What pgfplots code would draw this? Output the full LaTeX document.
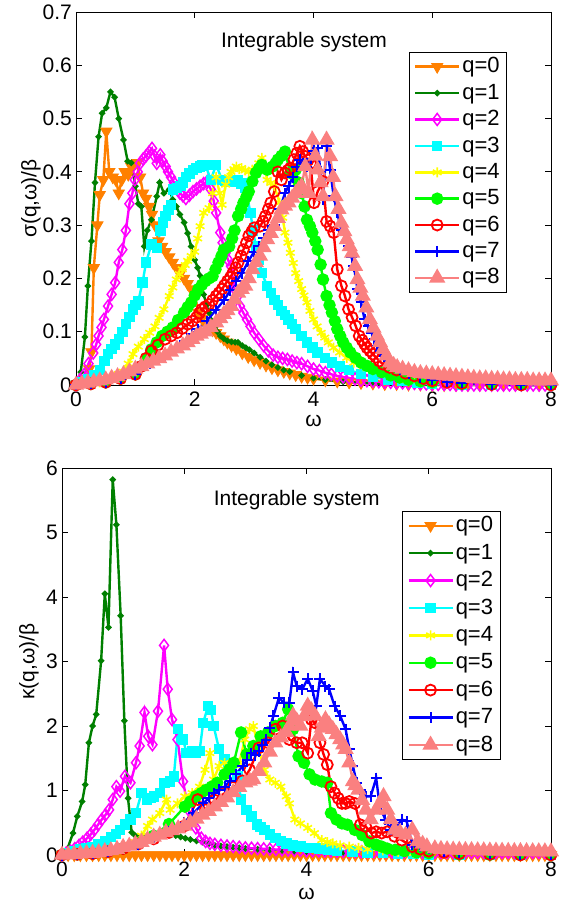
\documentclass[border=0pt]{standalone}
\usepackage{fontspec}
\setmainfont{Liberation Sans}
\usepackage{pgfplots}
\pgfplotsset{compat=1.18}
\definecolor{qorange}{rgb}{1,0.5,0}
\definecolor{qdkgreen}{rgb}{0,0.5,0}
\definecolor{qmagenta}{rgb}{1,0,1}
\definecolor{qcyan}{rgb}{0,1,1}
\definecolor{qyellow}{rgb}{1,1,0}
\definecolor{qgreen}{rgb}{0,1,0}
\definecolor{qred}{rgb}{1,0,0}
\definecolor{qblue}{rgb}{0,0,1}
\definecolor{qsalmon}{rgb}{0.98,0.5,0.5}
\newcommand{\bigf}{\fontsize{21}{25}\selectfont}
\newcommand{\legf}{\fontsize{22}{26}\selectfont}
\pgfplotsset{
  panel/.style={
    scale only axis, clip=false,
    xmin=0, xmax=8, xtick={0,2,4,6,8},
    tick align=inside, major tick length=6pt,
    axis line style={line width=0.9pt},
    every tick/.style={black, line width=0.8pt},
    every tick label/.append style={font=\bigf},
    xticklabel style={inner sep=1pt, yshift=-6pt},
    yticklabel style={inner sep=2pt, xshift=-2pt},
    every axis label/.append style={font=\bigf},
    /pgf/number format/assume math mode=true,
    xlabel={ω},
    xlabel style={at={(rel axis cs:0.5,0)}, anchor=center, inner sep=0pt},
    ylabel style={at={(rel axis cs:0,0.5)}, anchor=center},
    legend style={anchor=north west, draw=black, line width=1pt,
      font=\legf, inner xsep=5pt, inner ysep=3pt, nodes={font=\legf}},
    legend cell align=left,
    legend image code/.code={\draw[mark repeat=2,mark phase=2,##1] plot coordinates {(0pt,0pt) (22pt,0pt) (44pt,0pt)};},
  },
  s0/.style={qorange, line width=2.4pt, mark=triangle*, mark size=6.5pt, mark options={rotate=180, solid, line width=0.8pt, fill=qorange}},
  s1/.style={qdkgreen, line width=2.4pt, mark=*, mark size=1.8pt, mark options={solid}},
  s2/.style={qmagenta, line width=2.4pt, mark=diamond, mark size=6pt, mark options={solid, line width=1.5pt}},
  s3/.style={qcyan, line width=2.4pt, mark=square*, mark size=4pt, mark options={solid}},
  s4/.style={qyellow, line width=2.4pt, mark=asterisk, mark size=5pt, mark options={solid, line width=1.6pt}},
  s5/.style={qgreen, line width=2.4pt, mark=*, mark size=5pt, mark options={solid}},
  s6/.style={qred, line width=2.4pt, mark=o, mark size=5.5pt, mark options={solid, line width=1.8pt}},
  s7/.style={qblue, line width=2.4pt, mark=+, mark size=5.5pt, mark options={solid, line width=2pt}},
  s8/.style={qsalmon, line width=2.4pt, mark=triangle*, mark size=7pt, mark options={solid}},
}
\begin{document}
\bigf
\begin{tikzpicture}[font=\bigf]
\path[use as bounding box] (0pt,0pt) rectangle (567pt,903pt);

% upper panel: sigma
\begin{axis}[panel, at={(76pt,518pt)}, anchor=south west,
  width=475pt, height=373pt,
  ymin=0, ymax=0.7, ytick={0,0.1,0.2,0.3,0.4,0.5,0.6,0.7},
  ylabel={σ(q,ω)/β},
  xlabel style={yshift=-36pt},
  ylabel style={yshift=45pt},
  legend style={at={(0.70,0.893)}, row sep=4pt}]

\addplot[s0] coordinates {
(0,0) (0.08,0.005) (0.16,0.01) (0.22,0.03) (0.26,0.062) (0.30,0.22) (0.36,0.30) (0.40,0.357) (0.46,0.385) (0.51,0.476) (0.56,0.40) (0.62,0.39) (0.67,0.385) (0.72,0.36) (0.77,0.385) (0.82,0.40) (0.88,0.395) (0.93,0.41) (0.98,0.415) (1.03,0.417) (1.08,0.39) (1.13,0.36) (1.18,0.35) (1.23,0.335) (1.28,0.32) (1.33,0.30) (1.39,0.27) (1.45,0.26) (1.51,0.25) (1.57,0.24) (1.63,0.23) (1.69,0.22) (1.76,0.21) (1.82,0.20) (1.88,0.19) (1.94,0.18) (2.0,0.17) (2.06,0.136) (2.12,0.125) (2.18,0.115) (2.24,0.108) (2.30,0.103) (2.36,0.098) (2.43,0.092) (2.49,0.086) (2.55,0.08) (2.62,0.074) (2.7,0.068) (2.8,0.06) (2.9,0.053) (3.0,0.047) (3.1,0.042) (3.2,0.037) (3.3,0.032) (3.4,0.028) (3.5,0.025) (3.6,0.022) (3.7,0.019) (3.8,0.016) (3.9,0.014) (4.0,0.012) (4.2,0.009) (4.4,0.007) (4.6,0.005) (4.8,0.004) (5.0,0.003) (5.2,0.002) (5.4,0.002) (5.6,0.001) (5.8,0.001) (6.0,0) (6.2,0) (6.4,0) (6.6,0) (6.8,0) (7.0,0) (7.2,0) (7.4,0) (7.6,0) (7.8,0) (8.0,0)
};
\addlegendentry{q=0}
\addplot[s1] coordinates {
(0,0) (0.08,0.024) (0.15,0.09) (0.2,0.186) (0.26,0.27) (0.32,0.38) (0.38,0.466) (0.44,0.51) (0.51,0.52) (0.58,0.55) (0.65,0.54) (0.72,0.50) (0.8,0.46) (0.87,0.42) (0.93,0.417) (1.0,0.373) (1.05,0.34) (1.1,0.335) (1.15,0.26) (1.2,0.29) (1.27,0.31) (1.36,0.354) (1.41,0.38) (1.48,0.36) (1.57,0.367) (1.63,0.348) (1.69,0.335) (1.75,0.32) (1.82,0.305) (1.88,0.285) (1.94,0.26) (2.0,0.235) (2.05,0.22) (2.09,0.205) (2.15,0.17) (2.2,0.15) (2.24,0.136) (2.29,0.12) (2.33,0.108) (2.38,0.1) (2.43,0.092) (2.49,0.087) (2.55,0.083) (2.62,0.081) (2.68,0.08) (2.73,0.08) (2.8,0.074) (2.86,0.07) (2.92,0.066) (3.0,0.06) (3.1,0.052) (3.2,0.045) (3.3,0.038) (3.4,0.033) (3.5,0.028) (3.6,0.025) (3.8,0.018) (4.0,0.013) (4.2,0.01) (4.5,0.006) (5.0,0.003) (5.5,0.001) (6,0) (7,0) (8,0)
};
\addlegendentry{q=1}
\addplot[s2] coordinates {
(0,0) (0.07,0.01) (0.14,0.02) (0.21,0.04) (0.29,0.06) (0.34,0.076) (0.38,0.092) (0.43,0.108) (0.47,0.123) (0.54,0.148) (0.6,0.17) (0.66,0.192) (0.72,0.23) (0.78,0.254) (0.84,0.29) (0.9,0.34) (0.95,0.36) (0.99,0.385) (1.04,0.40) (1.08,0.416) (1.13,0.424) (1.18,0.43) (1.23,0.437) (1.28,0.444) (1.32,0.43) (1.36,0.416) (1.42,0.432) (1.46,0.42) (1.51,0.41) (1.55,0.40) (1.6,0.39) (1.65,0.38) (1.69,0.37) (1.75,0.36) (1.8,0.355) (1.85,0.35) (1.91,0.356) (1.97,0.363) (2.03,0.368) (2.09,0.373) (2.15,0.378) (2.21,0.382) (2.27,0.367) (2.32,0.345) (2.36,0.323) (2.43,0.286) (2.47,0.267) (2.52,0.248) (2.56,0.235) (2.61,0.223) (2.67,0.18) (2.71,0.165) (2.76,0.148) (2.82,0.135) (2.88,0.123) (2.94,0.11) (3.0,0.098) (3.08,0.086) (3.16,0.074) (3.24,0.064) (3.32,0.056) (3.4,0.052) (3.48,0.05) (3.56,0.048) (3.64,0.045) (3.72,0.042) (3.8,0.04) (3.9,0.035) (4.0,0.03) (4.1,0.027) (4.2,0.023) (4.3,0.02) (4.4,0.017) (4.5,0.015) (4.6,0.013) (4.7,0.011) (4.8,0.009) (4.9,0.008) (5.0,0.007) (5.1,0.006) (5.2,0.005) (5.3,0.005) (5.4,0.004) (5.5,0.004) (5.6,0.003) (5.7,0.003) (5.8,0.002) (5.9,0.002) (6.0,0.001) (6.1,0.001) (6.2,0.001) (6.3,0.001) (6.4,0) (6.5,0) (6.6,0) (6.7,0) (6.8,0) (6.9,0) (7.0,0) (7.1,0) (7.2,0) (7.3,0) (7.4,0) (7.5,0) (7.6,0) (7.7,0) (7.8,0) (7.9,0) (8.0,0)
};
\addlegendentry{q=2}
\addplot[s3] coordinates {
(0,0) (0.1,0.005) (0.2,0.01) (0.3,0.018) (0.4,0.028) (0.48,0.045) (0.54,0.058) (0.6,0.067) (0.66,0.076) (0.72,0.086) (0.78,0.1) (0.84,0.114) (0.9,0.128) (0.96,0.142) (1.0,0.15) (1.05,0.158) (1.12,0.192) (1.18,0.23) (1.27,0.264) (1.36,0.257) (1.42,0.29) (1.47,0.305) (1.51,0.317) (1.56,0.328) (1.6,0.338) (1.63,0.367) (1.7,0.37) (1.76,0.373) (1.8,0.38) (1.85,0.39) (1.91,0.397) (1.97,0.404) (2.03,0.407) (2.09,0.41) (2.13,0.412) (2.18,0.413) (2.27,0.385) (2.36,0.413) (2.46,0.385) (2.52,0.383) (2.61,0.382) (2.67,0.384) (2.73,0.385) (2.79,0.378) (2.85,0.37) (2.94,0.323) (2.98,0.29) (3.03,0.26) (3.08,0.235) (3.13,0.21) (3.22,0.186) (3.28,0.173) (3.34,0.16) (3.4,0.15) (3.46,0.139) (3.52,0.131) (3.58,0.123) (3.64,0.114) (3.7,0.105) (3.8,0.092) (3.89,0.08) (3.98,0.07) (4.07,0.061) (4.19,0.051) (4.31,0.042) (4.45,0.035) (4.6,0.028) (4.8,0.021) (5.0,0.015) (5.25,0.01) (5.5,0.007) (5.75,0.005) (6.0,0.003) (6.5,0.001) (7,0) (7.5,0) (8,0)
};
\addlegendentry{q=3}
\addplot[s4] coordinates {
(0,0) (0.2,0.002) (0.4,0.005) (0.5,0.01) (0.65,0.017) (0.8,0.025) (0.88,0.04) (0.96,0.058) (1.05,0.072) (1.15,0.086) (1.24,0.098) (1.33,0.11) (1.4,0.126) (1.48,0.142) (1.57,0.167) (1.63,0.183) (1.69,0.198) (1.74,0.208) (1.79,0.217) (1.84,0.225) (1.88,0.233) (1.94,0.242) (2.0,0.25) (2.05,0.275) (2.09,0.298) (2.15,0.323) (2.24,0.332) (2.3,0.36) (2.36,0.39) (2.42,0.36) (2.46,0.338) (2.52,0.376) (2.57,0.39) (2.61,0.40) (2.66,0.405) (2.7,0.41) (2.75,0.405) (2.79,0.407) (2.85,0.403) (2.91,0.40) (2.97,0.404) (3.03,0.407) (3.08,0.416) (3.13,0.426) (3.18,0.405) (3.22,0.385) (3.28,0.379) (3.34,0.373) (3.43,0.342) (3.48,0.314) (3.52,0.286) (3.57,0.267) (3.61,0.248) (3.66,0.229) (3.7,0.21) (3.75,0.195) (3.8,0.18) (3.84,0.168) (3.89,0.155) (3.94,0.139) (4.0,0.123) (4.06,0.11) (4.13,0.098) (4.19,0.089) (4.25,0.08) (4.34,0.07) (4.44,0.061) (4.56,0.051) (4.68,0.042) (4.84,0.035) (5.0,0.028) (5.25,0.02) (5.5,0.013) (5.75,0.009) (6.0,0.006) (6.5,0.002) (7,0.001) (7.5,0) (8,0)
};
\addlegendentry{q=4}
\addplot[s5] coordinates {
(0,0) (0.25,0.002) (0.5,0.005) (0.75,0.012) (1.0,0.02) (1.1,0.035) (1.18,0.05) (1.27,0.067) (1.36,0.08) (1.45,0.092) (1.54,0.1) (1.63,0.108) (1.72,0.122) (1.82,0.136) (1.88,0.146) (1.94,0.155) (2.0,0.168) (2.06,0.18) (2.12,0.188) (2.18,0.195) (2.24,0.2) (2.3,0.204) (2.35,0.217) (2.4,0.23) (2.45,0.242) (2.49,0.254) (2.58,0.26) (2.63,0.275) (2.67,0.29) (2.73,0.317) (2.78,0.33) (2.82,0.342) (2.87,0.353) (2.91,0.363) (2.97,0.382) (3.03,0.398) (3.08,0.406) (3.13,0.413) (3.22,0.404) (3.31,0.41) (3.36,0.416) (3.4,0.423) (3.46,0.43) (3.52,0.438) (3.61,0.398) (3.7,0.404) (3.75,0.38) (3.8,0.36) (3.85,0.335) (3.89,0.31) (3.94,0.298) (3.98,0.286) (4.03,0.27) (4.07,0.254) (4.12,0.226) (4.16,0.198) (4.22,0.167) (4.27,0.15) (4.31,0.136) (4.36,0.12) (4.4,0.105) (4.45,0.092) (4.5,0.08) (4.56,0.07) (4.62,0.061) (4.71,0.051) (4.8,0.042) (4.9,0.036) (5.0,0.03) (5.15,0.024) (5.3,0.018) (5.45,0.014) (5.6,0.01) (5.8,0.007) (6.0,0.005) (6.5,0.002) (7,0.001) (7.5,0) (8,0)
};
\addlegendentry{q=5}
\addplot[s6] coordinates {
(0,0) (0.25,0.002) (0.5,0.005) (0.75,0.012) (1.0,0.02) (1.1,0.035) (1.18,0.05) (1.27,0.064) (1.38,0.075) (1.5,0.086) (1.6,0.092) (1.7,0.098) (1.79,0.106) (1.88,0.114) (1.96,0.12) (2.03,0.127) (2.08,0.135) (2.12,0.142) (2.18,0.147) (2.24,0.151) (2.3,0.159) (2.36,0.167) (2.41,0.173) (2.46,0.18) (2.5,0.187) (2.55,0.195) (2.6,0.202) (2.64,0.21) (2.69,0.22) (2.73,0.23) (2.78,0.242) (2.82,0.254) (2.87,0.267) (2.91,0.28) (2.96,0.288) (3.0,0.295) (3.1,0.298) (3.15,0.307) (3.19,0.317) (3.24,0.33) (3.28,0.342) (3.34,0.363) (3.4,0.40) (3.46,0.385) (3.52,0.398) (3.57,0.403) (3.61,0.407) (3.67,0.423) (3.72,0.435) (3.77,0.448) (3.82,0.438) (3.86,0.429) (3.91,0.422) (3.95,0.416) (4.01,0.342) (4.07,0.363) (4.16,0.382) (4.22,0.307) (4.28,0.298) (4.34,0.286) (4.4,0.217) (4.47,0.186) (4.53,0.167) (4.59,0.142) (4.65,0.127) (4.71,0.111) (4.77,0.092) (4.82,0.084) (4.86,0.077) (4.9,0.07) (4.95,0.064) (5.0,0.058) (5.05,0.052) (5.11,0.045) (5.17,0.039) (5.28,0.033) (5.4,0.028) (5.55,0.022) (5.7,0.017) (5.85,0.012) (6.0,0.008) (6.25,0.005) (6.5,0.003) (7.0,0.001) (7.5,0) (8,0)
};
\addlegendentry{q=6}
\addplot[s7] coordinates {
(0,0) (0.25,0.002) (0.5,0.005) (0.75,0.012) (1.0,0.02) (1.25,0.04) (1.5,0.055) (1.75,0.075) (1.95,0.095) (2.05,0.105) (2.2,0.12) (2.35,0.14) (2.5,0.16) (2.6,0.178) (2.7,0.195) (2.8,0.21) (2.9,0.232) (3.0,0.25) (3.08,0.26) (3.16,0.275) (3.24,0.29) (3.34,0.30) (3.43,0.33) (3.52,0.36) (3.58,0.373) (3.65,0.39) (3.72,0.41) (3.77,0.423) (3.83,0.416) (3.89,0.41) (3.95,0.425) (4.0,0.44) (4.07,0.445) (4.12,0.4) (4.16,0.348) (4.22,0.448) (4.28,0.404) (4.34,0.354) (4.4,0.323) (4.47,0.29) (4.53,0.286) (4.59,0.26) (4.64,0.24) (4.68,0.223) (4.74,0.18) (4.8,0.155) (4.86,0.123) (4.92,0.11) (4.98,0.098) (5.02,0.086) (5.07,0.074) (5.13,0.064) (5.2,0.055) (5.27,0.045) (5.35,0.036) (5.45,0.03) (5.6,0.022) (5.8,0.015) (6.0,0.01) (6.25,0.006) (6.5,0.004) (7,0.001) (7.5,0) (8,0)
};
\addlegendentry{q=7}
\addplot[s8] coordinates {
(0,0) (0.1,0.002) (0.2,0.004) (0.3,0.006) (0.4,0.008) (0.5,0.01) (0.6,0.013) (0.7,0.016) (0.8,0.02) (0.9,0.025) (1.0,0.03) (1.1,0.035) (1.2,0.04) (1.3,0.045) (1.4,0.05) (1.5,0.055) (1.6,0.062) (1.7,0.068) (1.8,0.074) (1.88,0.08) (1.96,0.086) (2.03,0.092) (2.1,0.096) (2.18,0.10) (2.27,0.108) (2.36,0.117) (2.43,0.125) (2.49,0.133) (2.55,0.14) (2.61,0.148) (2.67,0.16) (2.73,0.173) (2.79,0.18) (2.85,0.186) (2.91,0.2) (2.97,0.217) (3.03,0.23) (3.1,0.242) (3.16,0.258) (3.22,0.273) (3.28,0.285) (3.34,0.298) (3.4,0.313) (3.46,0.329) (3.52,0.336) (3.58,0.342) (3.64,0.351) (3.7,0.36) (3.75,0.367) (3.8,0.373) (3.86,0.41) (3.92,0.36) (3.98,0.46) (4.03,0.43) (4.07,0.404) (4.12,0.38) (4.16,0.354) (4.22,0.46) (4.28,0.429) (4.33,0.39) (4.37,0.354) (4.42,0.33) (4.47,0.304) (4.52,0.288) (4.56,0.273) (4.61,0.26) (4.65,0.248) (4.7,0.223) (4.74,0.198) (4.79,0.182) (4.83,0.167) (4.89,0.145) (4.95,0.123) (5.01,0.107) (5.07,0.092) (5.12,0.08) (5.17,0.067) (5.23,0.055) (5.29,0.042) (5.35,0.037) (5.41,0.033) (5.5,0.03) (5.6,0.027) (5.7,0.024) (5.8,0.022) (5.9,0.021) (6.0,0.02) (6.1,0.019) (6.2,0.018) (6.3,0.017) (6.4,0.016) (6.5,0.015) (6.6,0.014) (6.7,0.013) (6.8,0.012) (6.9,0.012) (7.0,0.011) (7.1,0.011) (7.2,0.01) (7.3,0.01) (7.4,0.009) (7.5,0.009) (7.6,0.009) (7.7,0.008) (7.8,0.008) (7.9,0.008) (8.0,0.008)
};
\addlegendentry{q=8}
\node[font=\bigf] at (rel axis cs:0.48,0.92) {Integrable system};
\end{axis}

% lower panel: kappa
\begin{axis}[panel, at={(62pt,48pt)}, anchor=south west,
  width=489pt, height=387pt,
  ymin=0, ymax=6, ytick={0,1,2,3,4,5,6},
  ylabel={κ(q,ω)/β},
  xlabel style={yshift=-39pt},
  ylabel style={yshift=33pt},
  legend style={at={(0.695,0.889)}, row sep=5pt}]

\addplot[s0] coordinates {
(0,0) (0.1,0) (0.2,0) (0.3,0) (0.4,0) (0.5,0) (0.6,0) (0.7,0) (0.8,0) (0.9,0) (1.0,0) (1.1,0) (1.2,0) (1.3,0) (1.4,0) (1.5,0) (1.6,0) (1.7,0) (1.8,0) (1.9,0) (2.0,0) (2.1,0) (2.2,0) (2.3,0) (2.4,0) (2.5,0) (2.6,0) (2.7,0) (2.8,0) (2.9,0) (3.0,0) (3.1,0) (3.2,0) (3.3,0) (3.4,0) (3.5,0) (3.6,0) (3.7,0) (3.8,0) (3.9,0) (4.0,0) (4.1,0) (4.2,0) (4.3,0) (4.4,0) (4.5,0) (4.6,0) (4.7,0) (4.8,0) (4.9,0) (5.0,0) (5.1,0) (5.2,0) (5.3,0) (5.4,0) (5.5,0) (5.6,0) (5.7,0) (5.8,0) (5.9,0) (6.0,0) (6.1,0) (6.2,0) (6.3,0) (6.4,0) (6.5,0) (6.6,0) (6.7,0) (6.8,0) (6.9,0) (7.0,0) (7.1,0) (7.2,0) (7.3,0) (7.4,0) (7.5,0) (7.6,0) (7.7,0) (7.8,0) (7.9,0) (8.0,0)
};
\addlegendentry{q=0}
\addplot[s1] coordinates {
(0,0) (0.09,0.1) (0.18,0.34) (0.25,0.6) (0.33,0.83) (0.38,1.09) (0.44,1.74) (0.5,2.0) (0.56,2.18) (0.64,3.01) (0.7,4.05) (0.76,3.53) (0.83,5.82) (0.89,5.12) (0.96,3.71) (1.02,2.08) (1.08,0.88) (1.14,0.35) (1.2,0.3) (1.3,0.29) (1.4,0.3) (1.5,0.3) (1.6,0.31) (1.7,0.32) (1.78,0.31) (1.86,0.3) (1.94,0.28) (2.02,0.26) (2.1,0.24) (2.2,0.22) (2.3,0.2) (2.4,0.17) (2.5,0.15) (2.6,0.14) (2.7,0.13) (2.8,0.12) (2.9,0.11) (3.0,0.1) (3.2,0.09) (3.4,0.08) (3.6,0.07) (3.8,0.05) (4.0,0.04) (4.3,0.03) (4.6,0.02) (5,0.01) (5.5,0.005) (6,0) (7,0) (8,0)
};
\addlegendentry{q=1}
\addplot[s2] coordinates {
(0,0) (0.07,0.03) (0.14,0.06) (0.21,0.1) (0.28,0.15) (0.34,0.2) (0.41,0.26) (0.47,0.32) (0.53,0.39) (0.59,0.47) (0.65,0.55) (0.71,0.62) (0.77,0.7) (0.83,0.86) (0.89,1.06) (0.95,0.99) (1.03,1.22) (1.12,1.12) (1.21,1.43) (1.27,1.69) (1.35,2.21) (1.41,1.84) (1.48,1.71) (1.57,2.23) (1.67,3.25) (1.73,2.57) (1.8,2.1) (1.89,1.79) (1.98,1.14) (2.07,0.7) (2.19,0.42) (2.28,0.26) (2.35,0.21) (2.42,0.18) (2.5,0.165) (2.6,0.15) (2.7,0.14) (2.8,0.13) (2.9,0.12) (3.0,0.11) (3.1,0.105) (3.2,0.1) (3.3,0.095) (3.4,0.09) (3.5,0.085) (3.6,0.08) (3.7,0.077) (3.8,0.074) (3.9,0.071) (4.0,0.068) (4.1,0.066) (4.2,0.064) (4.3,0.062) (4.4,0.06) (4.5,0.058) (4.6,0.056) (4.7,0.054) (4.8,0.052) (4.9,0.05) (5.0,0.049) (5.1,0.048) (5.2,0.047) (5.3,0.046) (5.4,0.045) (5.5,0.044) (5.6,0.043) (5.7,0.042) (5.8,0.042) (5.9,0.041) (6.0,0.04) (6.1,0.04) (6.2,0.04) (6.3,0.04) (6.4,0.04) (6.5,0.04) (6.6,0.04) (6.7,0.04) (6.8,0.04) (6.9,0.04) (7.0,0.04) (7.1,0.04) (7.2,0.04) (7.3,0.04) (7.4,0.04) (7.5,0.04) (7.6,0.04) (7.7,0.04) (7.8,0.04) (7.9,0.04) (8.0,0.04)
};
\addlegendentry{q=2}
\addplot[s3] coordinates {
(0,0) (0.1,0.03) (0.2,0.06) (0.3,0.09) (0.4,0.1) (0.5,0.12) (0.6,0.17) (0.7,0.22) (0.8,0.28) (0.88,0.33) (0.95,0.39) (1.03,0.47) (1.12,0.55) (1.21,0.65) (1.3,0.96) (1.39,0.86) (1.45,0.88) (1.51,0.91) (1.6,0.96) (1.68,1.12) (1.77,1.14) (1.83,1.22) (1.9,1.95) (1.98,1.79) (2.04,1.58) (2.13,1.61) (2.19,1.58) (2.25,1.61) (2.31,2.05) (2.39,2.31) (2.44,2.25) (2.48,2.0) (2.57,1.64) (2.66,1.48) (2.72,1.43) (2.78,1.38) (2.87,1.22) (2.93,0.86) (3.02,0.7) (3.1,0.6) (3.19,0.47) (3.25,0.43) (3.31,0.39) (3.4,0.32) (3.49,0.26) (3.58,0.22) (3.67,0.18) (3.78,0.15) (3.9,0.13) (4.05,0.11) (4.2,0.1) (4.35,0.085) (4.5,0.07) (4.75,0.055) (5.0,0.04) (5.25,0.03) (5.5,0.02) (5.75,0.015) (6,0.01) (6.5,0.005) (7,0.002) (7.5,0) (8,0)
};
\addlegendentry{q=3}
\addplot[s4] coordinates {
(0,0) (0.25,0.01) (0.5,0.02) (0.75,0.06) (1.0,0.1) (1.1,0.15) (1.2,0.2) (1.3,0.3) (1.4,0.45) (1.48,0.55) (1.6,0.65) (1.71,0.86) (1.77,0.7) (1.89,0.8) (2.01,0.91) (2.13,0.96) (2.25,1.06) (2.34,1.32) (2.42,1.58) (2.48,1.17) (2.57,1.38) (2.66,1.43) (2.78,1.32) (2.9,1.43) (2.99,1.79) (3.07,1.95) (3.13,2.0) (3.22,1.64) (3.31,1.32) (3.4,1.17) (3.49,1.12) (3.58,1.06) (3.67,0.91) (3.72,0.8) (3.81,0.55) (3.9,0.49) (4.02,0.42) (4.13,0.34) (4.25,0.23) (4.34,0.2) (4.43,0.18) (4.55,0.15) (4.7,0.13) (4.85,0.11) (5.0,0.09) (5.25,0.07) (5.5,0.05) (5.75,0.03) (6,0.02) (6.5,0.01) (7,0.005) (7.5,0) (8,0)
};
\addlegendentry{q=4}
\addplot[s5] coordinates {
(0,0) (0.25,0.01) (0.5,0.02) (0.75,0.05) (1.0,0.1) (1.25,0.18) (1.5,0.3) (1.75,0.48) (2.01,0.75) (2.1,0.83) (2.19,0.91) (2.28,0.96) (2.36,1.01) (2.45,1.06) (2.54,1.12) (2.66,1.25) (2.74,1.33) (2.81,1.43) (2.93,1.9) (3.02,1.56) (3.13,1.69) (3.25,1.84) (3.37,1.9) (3.49,2.0) (3.61,2.05) (3.7,2.26) (3.78,1.95) (3.87,1.53) (3.96,1.43) (4.05,1.25) (4.14,1.17) (4.25,1.14) (4.34,1.12) (4.4,0.65) (4.49,0.55) (4.58,0.49) (4.67,0.47) (4.79,0.39) (4.91,0.31) (5.03,0.21) (5.14,0.16) (5.23,0.13) (5.32,0.1) (5.45,0.08) (5.6,0.06) (5.8,0.04) (6.0,0.03) (6.5,0.01) (7,0.003) (7.5,0) (8,0)
};
\addlegendentry{q=5}
\addplot[s6] coordinates {
(0,0) (0.25,0.01) (0.5,0.02) (0.75,0.05) (1.0,0.1) (1.25,0.17) (1.5,0.25) (1.75,0.35) (2.0,0.45) (2.22,0.86) (2.35,0.7) (2.5,0.85) (2.65,0.95) (2.8,1.05) (2.95,1.15) (3.07,1.32) (3.22,1.66) (3.37,1.74) (3.49,1.95) (3.61,2.0) (3.72,1.79) (3.84,1.74) (3.93,1.74) (4.02,1.58) (4.08,2.1) (4.14,2.05) (4.22,1.74) (4.28,1.56) (4.34,1.4) (4.4,1.06) (4.46,0.96) (4.52,0.88) (4.58,0.8) (4.64,0.8) (4.7,0.83) (4.79,0.8) (4.88,0.47) (4.97,0.44) (5.06,0.34) (5.14,0.36) (5.23,0.34) (5.32,0.36) (5.44,0.29) (5.56,0.23) (5.73,0.13) (5.86,0.09) (6.0,0.06) (6.25,0.04) (6.5,0.02) (7,0.01) (7.5,0) (8,0)
};
\addlegendentry{q=6}
\addplot[s7] coordinates {
(0,0) (0.25,0.01) (0.5,0.02) (0.75,0.05) (1.0,0.1) (1.25,0.17) (1.5,0.25) (1.75,0.36) (2.0,0.5) (2.15,0.65) (2.31,0.8) (2.4,0.88) (2.48,0.96) (2.57,1.01) (2.66,1.06) (2.75,1.15) (2.84,1.25) (2.96,1.38) (3.03,1.48) (3.1,1.58) (3.16,1.55) (3.22,1.61) (3.28,1.7) (3.34,1.79) (3.4,1.97) (3.46,2.16) (3.55,2.44) (3.63,2.36) (3.72,2.36) (3.78,2.83) (3.84,2.62) (3.93,2.57) (4.02,2.73) (4.1,2.55) (4.16,2.31) (4.22,2.73) (4.31,2.62) (4.37,2.57) (4.46,2.31) (4.55,2.16) (4.64,1.95) (4.7,1.64) (4.76,1.38) (4.82,1.12) (4.88,1.01) (4.97,0.91) (5.05,0.91) (5.14,1.19) (5.2,0.75) (5.29,0.55) (5.38,0.39) (5.47,0.44) (5.56,0.55) (5.64,0.52) (5.73,0.16) (5.85,0.13) (6.0,0.1) (6.25,0.06) (6.5,0.04) (7,0.02) (7.5,0.01) (8,0.005)
};
\addlegendentry{q=7}
\addplot[s8] coordinates {
(0,0) (0.1,0.005) (0.2,0.01) (0.3,0.02) (0.4,0.025) (0.5,0.03) (0.6,0.04) (0.7,0.055) (0.8,0.07) (0.9,0.09) (1.0,0.12) (1.1,0.14) (1.2,0.17) (1.3,0.2) (1.4,0.24) (1.5,0.28) (1.6,0.31) (1.7,0.35) (1.8,0.38) (1.9,0.41) (2.0,0.45) (2.1,0.5) (2.2,0.56) (2.3,0.62) (2.4,0.68) (2.5,0.75) (2.6,0.82) (2.7,0.89) (2.8,0.97) (2.9,1.05) (3.0,1.12) (3.07,1.15) (3.13,1.17) (3.22,1.3) (3.31,1.43) (3.4,1.6) (3.49,1.74) (3.58,1.82) (3.67,1.9) (3.72,2.0) (3.78,2.16) (3.84,2.08) (3.9,2.0) (3.96,2.15) (4.02,2.31) (4.08,2.24) (4.14,2.16) (4.2,1.84) (4.25,1.97) (4.31,2.1) (4.37,2.02) (4.43,1.95) (4.49,1.87) (4.55,1.79) (4.6,1.71) (4.64,1.64) (4.7,1.43) (4.76,1.14) (4.8,1.08) (4.85,1.01) (4.91,0.85) (4.97,0.7) (5.05,0.55) (5.14,0.7) (5.2,0.8) (5.26,0.91) (5.32,0.7) (5.38,0.55) (5.44,0.39) (5.53,0.35) (5.62,0.31) (5.73,0.39) (5.82,0.21) (5.9,0.17) (5.97,0.13) (6.1,0.1) (6.2,0.09) (6.3,0.085) (6.4,0.08) (6.5,0.078) (6.6,0.075) (6.7,0.073) (6.8,0.07) (6.9,0.068) (7.0,0.066) (7.1,0.064) (7.2,0.062) (7.3,0.06) (7.4,0.058) (7.5,0.057) (7.6,0.056) (7.7,0.055) (7.8,0.054) (7.9,0.053) (8.0,0.052)
};
\addlegendentry{q=8}
\node[font=\bigf] at (rel axis cs:0.48,0.916) {Integrable system};
\end{axis}
\end{tikzpicture}
\end{document}
